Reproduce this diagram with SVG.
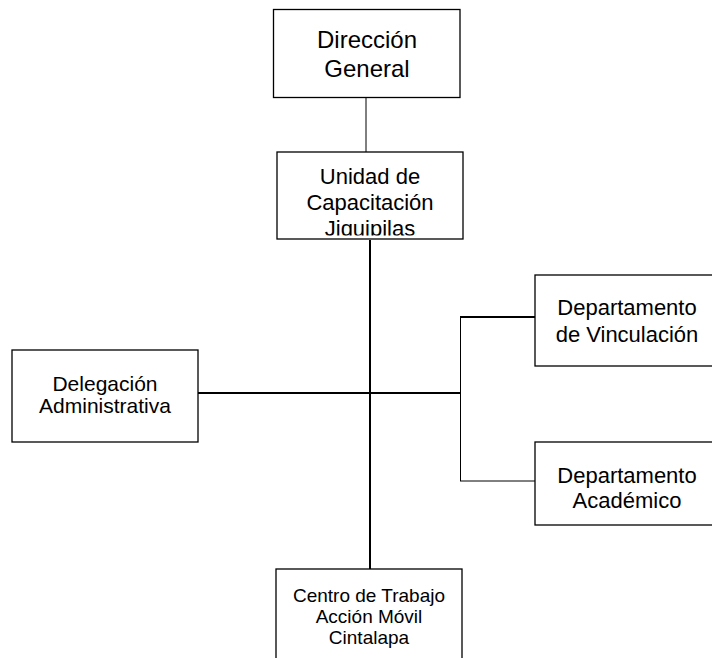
<svg xmlns="http://www.w3.org/2000/svg" width="712" height="658" viewBox="0 0 712 658">
<style>
.box{fill:#fff;stroke:#000;stroke-width:1.3}
.t{font-family:"Liberation Sans",Arial,sans-serif;fill:#000;text-anchor:middle}
.thin{stroke:#000;stroke-width:1;fill:none}
.thick{stroke:#000;stroke-width:2;fill:none}
</style>
<defs>
<clipPath id="clipU"><rect x="277" y="152" width="186" height="83.5"/></clipPath>
</defs>
<rect width="712" height="658" fill="#fff"/>
<g id="connectors">
<line class="thin" x1="366" y1="98" x2="366" y2="152"/>
<line class="thick" x1="370" y1="240" x2="370" y2="569"/>
<line class="thick" x1="198" y1="393" x2="461" y2="393"/>
<line class="thin" x1="460.5" y1="316" x2="460.5" y2="481"/>
<line class="thick" x1="460" y1="317" x2="535" y2="317"/>
<line class="thin" x1="460" y1="481" x2="535" y2="481"/>
</g>
<g id="direccion">
<rect class="box" x="273.5" y="9.5" width="186.5" height="88"/>
<text class="t" font-size="24" x="367" y="48">Dirección</text>
<text class="t" font-size="24" x="367" y="77">General</text>
</g>
<g id="unidad">
<rect class="box" x="277" y="152" width="186" height="87"/>
<g clip-path="url(#clipU)">
<text class="t" font-size="22" x="370" y="184">Unidad de</text>
<text class="t" font-size="22" x="370" y="209.5">Capacitación</text>
<text class="t" font-size="22" x="370" y="235.5">Jiquipilas</text>
</g>
</g>
<g id="delegacion">
<rect class="box" x="12" y="350" width="186" height="92"/>
<text class="t" font-size="21" x="105" y="390.5">Delegación</text>
<text class="t" font-size="21" x="105" y="413">Administrativa</text>
</g>
<g id="vinculacion">
<rect class="box" x="535" y="275" width="190" height="91"/>
<text class="t" font-size="22" x="627" y="315">Departamento</text>
<text class="t" font-size="22" x="627" y="342">de Vinculación</text>
</g>
<g id="academico">
<rect class="box" x="535" y="442" width="190" height="83"/>
<text class="t" font-size="22" x="627" y="483">Departamento</text>
<text class="t" font-size="22" x="627" y="508">Académico</text>
</g>
<g id="centro">
<rect class="box" x="276" y="569" width="186" height="100"/>
<text class="t" font-size="19" x="369" y="602">Centro de Trabajo</text>
<text class="t" font-size="19" x="369" y="623">Acción Móvil</text>
<text class="t" font-size="19" x="369" y="644">Cintalapa</text>
</g>
</svg>
